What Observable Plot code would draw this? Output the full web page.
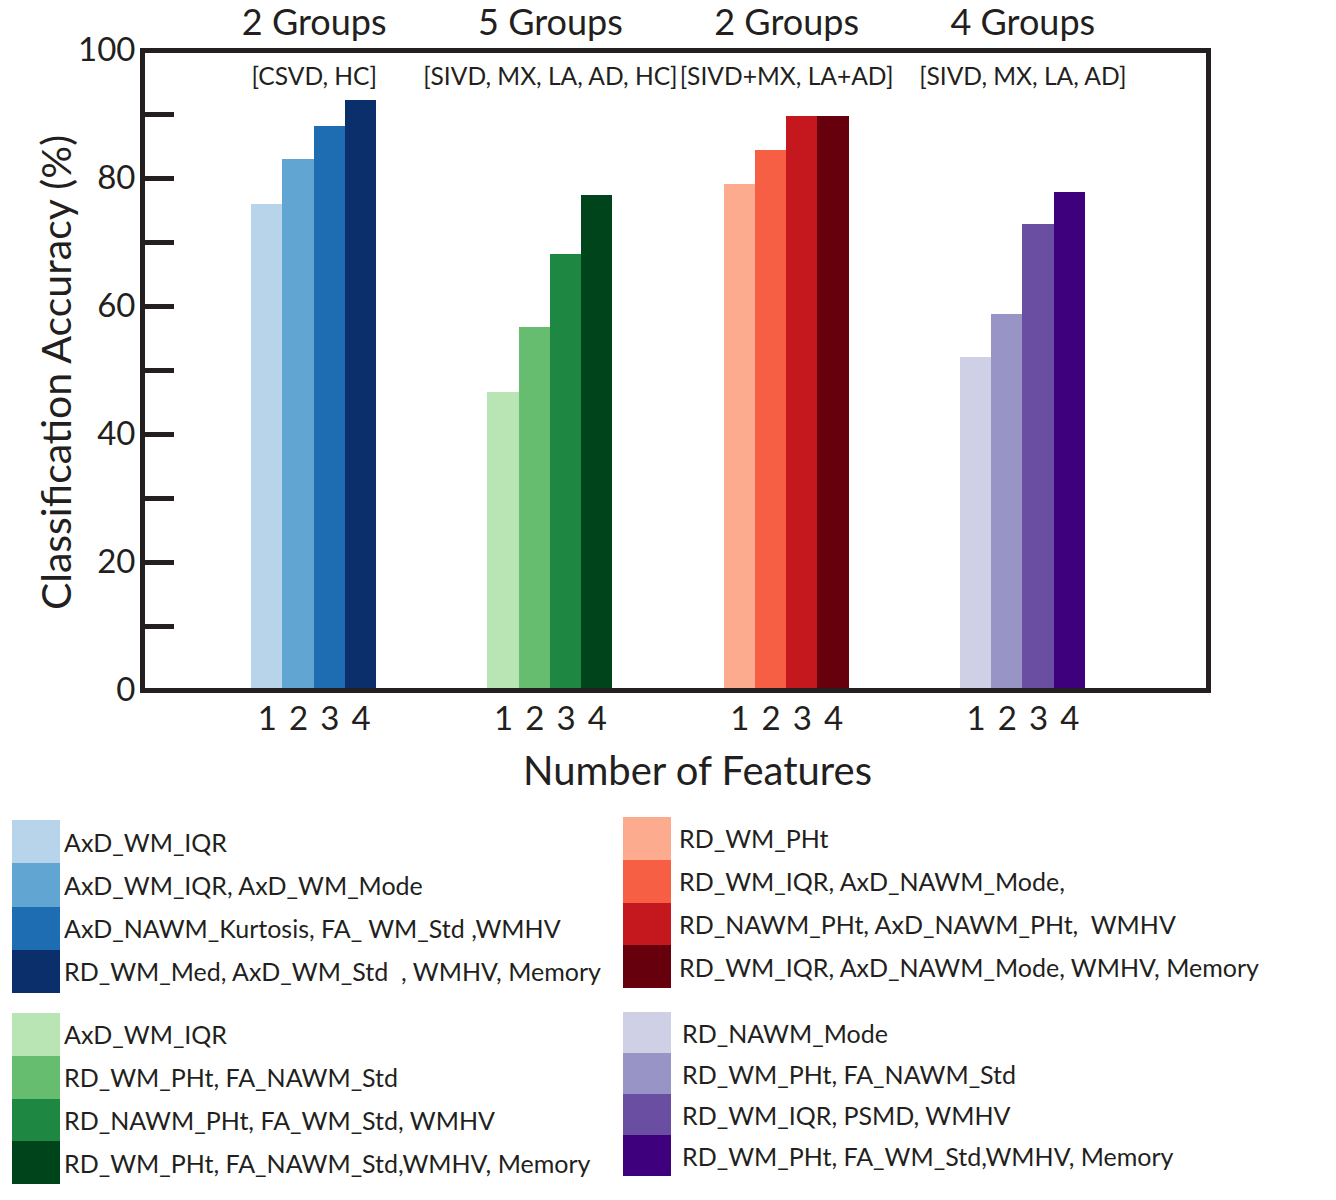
<!DOCTYPE html>
<html><head><meta charset="utf-8">
<script src="https://cdn.jsdelivr.net/npm/d3@7"></script>
<script src="https://cdn.jsdelivr.net/npm/@observablehq/plot@0.6"></script>
<style>
body{margin:0;background:#fff;font-family:Lato,"Open Sans",sans-serif;color:#231f20}
#chart svg{display:block}
#legend{position:relative;width:1336px;height:400px}
.block{position:absolute}
.row{display:flex;align-items:center}
.sw{width:48px;height:100%;flex:none}
.lab{font-size:25px;white-space:pre}
</style></head><body>
<div id="chart"></div><div id="legend"></div>
<script>
// ---- data ----
const groupTitles = ["2 Groups", "5 Groups", "2 Groups", "4 Groups"];
const groupClasses = ["[CSVD, HC]", "[SIVD, MX, LA, AD, HC]", "[SIVD+MX, LA+AD]", "[SIVD, MX, LA, AD]"];
const featureCounts = [1, 2, 3, 4];
const accCSVD = [76.0, 82.9, 88.1, 92.2];
const accFiveGroups = [46.5, 56.7, 68.2, 77.3];
const accMerged = [79.0, 84.4, 89.7, 89.7];
const accFourGroups = [52.1, 58.7, 72.8, 77.8];
const yTicksMinor = [0, 10, 20, 30, 40, 50, 60, 70, 80, 90, 100];
const yTicksMajor = [0, 20, 40, 60, 80, 100];

const blues = ["#b8d4ea", "#61a6d3", "#1e6cb1", "#0a2f6b"];
const greens = ["#b9e4b3", "#66bd6f", "#1e8741", "#00441b"];
const reds = ["#fcab8e", "#f65f43", "#c5181e", "#67000d"];
const purples = ["#cfd0e6", "#9894c5", "#6a4ea2", "#3f007d"];

const featuresCSVD = ["AxD_WM_IQR", "AxD_WM_IQR, AxD_WM_Mode", "AxD_NAWM_Kurtosis, FA_ WM_Std ,WMHV", "RD_WM_Med, AxD_WM_Std  , WMHV, Memory"];
const featuresFiveGroups = ["AxD_WM_IQR", "RD_WM_PHt, FA_NAWM_Std", "RD_NAWM_PHt, FA_WM_Std, WMHV", "RD_WM_PHt, FA_NAWM_Std,WMHV, Memory"];
const featuresMerged = ["RD_WM_PHt", "RD_WM_IQR, AxD_NAWM_Mode,", "RD_NAWM_PHt, AxD_NAWM_PHt,  WMHV", "RD_WM_IQR, AxD_NAWM_Mode, WMHV, Memory"];
const featuresFourGroups = ["RD_NAWM_Mode", "RD_WM_PHt, FA_NAWM_Std", "RD_WM_IQR, PSMD, WMHV", "RD_WM_PHt, FA_WM_Std,WMHV, Memory"];

const yLabel = "Classification Accuracy (%)";
const xLabel = "Number of Features";

// ---- build table ----
const accs = [accCSVD, accFiveGroups, accMerged, accFourGroups];
const palettes = [blues, greens, reds, purples];
const rows = groupClasses.flatMap((cls, gi) =>
  featureCounts.map((k, j) => ({gi, cls, k, acc: accs[gi][j], color: palettes[gi][j]})));
const groups = groupClasses.map((cls, gi) => ({gi, cls, title: groupTitles[gi]}));

const B = 0.1323; // bar width in group units
const ink = "#231f20";

const chart = Plot.plot({
  width: 1336,
  height: 800,
  marginLeft: 142,
  marginRight: 128,
  marginTop: 50,
  marginBottom: 110,
  style: {fontFamily: "Lato, 'Open Sans', sans-serif", color: ink, background: "#fff"},
  x: {type: "linear", domain: [-0.727, 3.786], axis: null},
  y: {domain: [0, 100], axis: null},
  marks: [
    Plot.rect(rows, {
      x1: d => d.gi + (d.k - 3) * B,
      x2: d => d.gi + (d.k - 2) * B,
      y1: 0, y2: "acc", fill: "color", shapeRendering: "crispEdges"
    }),
    Plot.frame({stroke: ink, strokeWidth: 5}),
    Plot.axisY(yTicksMinor, {tickSize: -32, strokeWidth: 5, stroke: ink, fill: "none", label: null}),
    Plot.axisY(yTicksMajor, {tickSize: 0, tickPadding: 7, fontSize: 33, fill: ink, label: null}),
    Plot.text(rows, {x: d => d.gi + (d.k - 2.5) * B, text: "k", frameAnchor: "bottom", dy: 39, fontSize: 33, fill: ink}),
    Plot.text(groups, {x: "gi", text: "title", frameAnchor: "top", dy: -41, fontSize: 36, fill: ink}),
    Plot.text(groups, {x: "gi", text: "cls", frameAnchor: "top", dy: 17, fontSize: 24.6, fill: ink}),
    Plot.text([yLabel], {frameAnchor: "left", textAnchor: "middle", rotate: -90, dx: -85, dy: 2, fontSize: 41, fill: ink}),
    Plot.text([xLabel], {frameAnchor: "bottom", dx: 22, dy: 94, fontSize: 40, fill: ink})
  ]
});
document.getElementById("chart").append(chart);

// ---- legend (HTML) ----
const legendBlocks = [
  {labels: featuresCSVD, colors: blues, left: 12, top: 20, rowH: 43.25, pad: 4},
  {labels: featuresFiveGroups, colors: greens, left: 12, top: 213, rowH: 42.75, pad: 4},
  {labels: featuresMerged, colors: reds, left: 623, top: 17, rowH: 42.75, pad: 8},
  {labels: featuresFourGroups, colors: purples, left: 623, top: 212, rowH: 41, pad: 11}
];
const legend = d3.select("#legend");
for (const b of legendBlocks) {
  const blk = legend.append("div").attr("class", "block")
    .style("left", b.left + "px").style("top", b.top + "px");
  b.labels.forEach((lab, i) => {
    const r = blk.append("div").attr("class", "row").style("height", b.rowH + "px");
    r.append("div").attr("class", "sw").style("background", b.colors[i]);
    r.append("div").attr("class", "lab").style("padding-left", b.pad + "px").text(lab);
  });
}
</script>
</body></html>
